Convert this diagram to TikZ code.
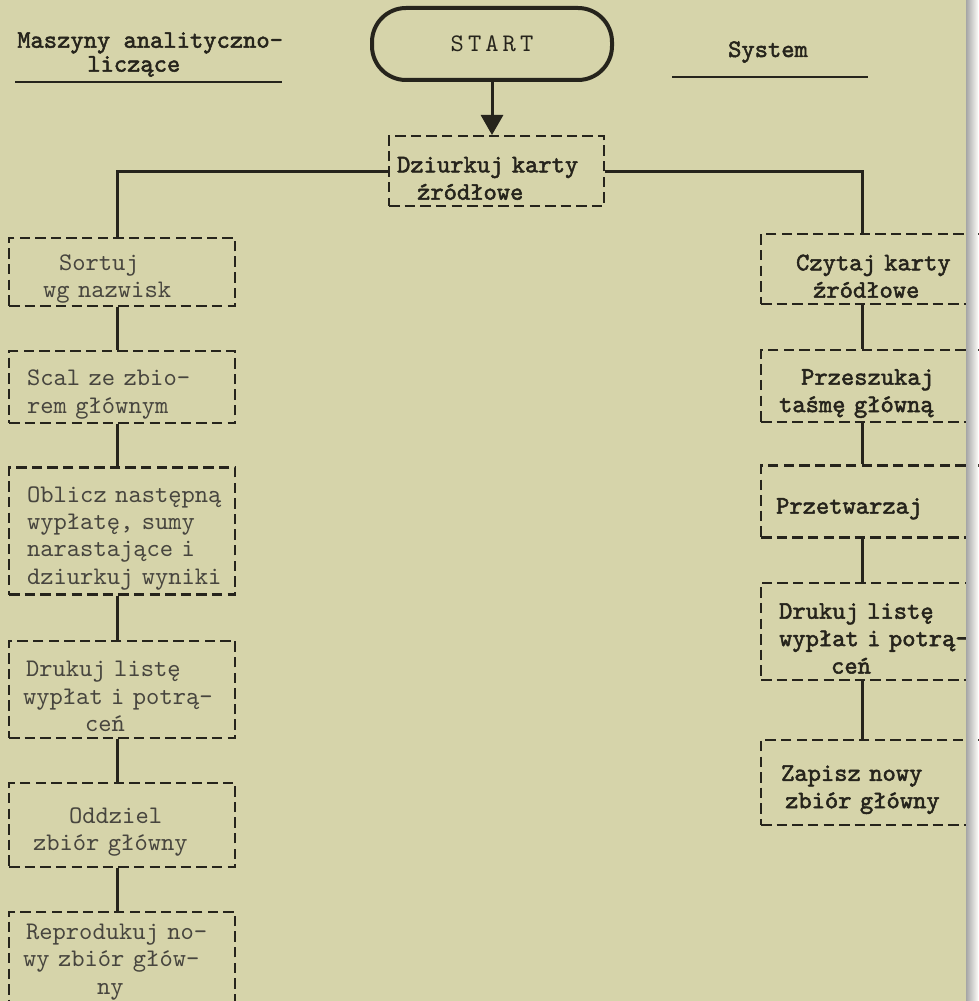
\documentclass[tikz,border=0pt]{standalone}
\usepackage{fontspec}
\setmainfont{lmmono10-regular.otf}[BoldFont=lmmono10-regular.otf,BoldFeatures={FakeBold=2}]
\newfontfamily\startfont{lmmono10-regular.otf}[LetterSpace=16]
\usetikzlibrary{arrows.meta,positioning,calc}
\definecolor{paper}{RGB}{214,212,170}
\definecolor{ink}{RGB}{38,36,28}
\newcommand\twfont{\fontsize{18pt}{19.5pt}\selectfont}
\tikzset{%
  box/.style={draw=ink,dash pattern=on 2.6mm off 1.3mm,line width=0.55mm,
    anchor=north west,align=left,inner ysep=0.5mm,inner xsep=1.5mm,text=ink},
  lowtext/.style={execute at begin node={\rule{0pt}{7.5mm}}},
  plainbox/.style={box,text width=53.5mm,font=\twfont,text=ink!85},
  lbox/.style={plainbox,lowtext},
  rbox/.style={box,lowtext,text width=54.5mm,font=\twfont\bfseries},
  link/.style={draw=ink,line width=0.75mm}%
}

\begin{document}
\begin{tikzpicture}[x=0.25mm,y=-0.25mm]
\useasboundingbox (0,0) rectangle (978,1001);
\fill[paper] (0,0) rectangle (978,1001);

% Headings
\node[anchor=north west,align=left,inner sep=0pt,text=ink,
  font=\fontsize{18pt}{17pt}\selectfont\bfseries] (mhead) at (17,32)
  {Maszyny analityczno-\\\hspace*{17.5mm}liczące};
\node[anchor=base,text=ink,font=\twfont\bfseries] (shead) at (768,57) {System};
\draw[ink,line width=0.6mm] (15,82) -- (282,82);
\draw[ink,line width=0.6mm] (672,77) -- (868,77);

% Start and first step
\node[draw=ink,line width=1mm,rounded corners=8.5mm,minimum width=60mm,
  minimum height=18mm,font=\startfont\twfont,text=ink] (start) at (492,44) {START};
\node[box,lowtext,text width=50.75mm,minimum height=17.5mm,font=\twfont\bfseries] (dz) at (388,135)
  {\hspace*{0.5mm}Dziurkuj karty\\\hspace*{5.5mm}źródłowe};

% Left column (machines)
\node[lbox,minimum height=17mm] (sortuj) at (8,237)
  {\hspace*{11mm}Sortuj\\\hspace*{7mm}wg nazwisk};
\node[lbox,minimum height=18mm,below=10.75mm of sortuj] (scal)
  {\hspace*{3mm}Scal ze zbio-\\\hspace*{3mm}rem głównym};
\node[lbox,minimum height=31.75mm,below=10.5mm of scal] (oblicz)
  {\hspace*{3mm}Oblicz następną\\\hspace*{3mm}wypłatę, sumy\\\hspace*{3mm}narastające i\\\hspace*{3mm}dziurkuj wyniki};
\node[lbox,minimum height=24.25mm,below=11mm of oblicz] (ldruk)
  {\hspace*{2.75mm}Drukuj listę\\\hspace*{2mm}wypłat i potrą-\\\hspace*{17.5mm}ceń};
\node[lbox,minimum height=21mm,below=10.75mm of ldruk] (oddziel)
  {\hspace*{13.5mm}Oddziel\\\hspace*{4.5mm}zbiór główny};
\node[plainbox,minimum height=25mm,below=10.75mm of oddziel] (repro)
  {\hspace*{2.75mm}Reprodukuj no-\\\hspace*{2mm}wy zbiór głów-\\\hspace*{20.5mm}ny};

% Right column (system)
\node[rbox,minimum height=17.5mm] (czytaj) at (760,233)
  {\hspace*{7.25mm}Czytaj karty\\\hspace*{11.5mm}źródłowe};
\node[rbox,minimum height=18mm,below=11mm of czytaj] (szukaj)
  {\hspace*{8.5mm}Przeszukaj\\\hspace*{3mm}taśmę główną};
\node[rbox,minimum height=18mm,below=10.25mm of szukaj] (przetw)
  {\hspace*{2.25mm}Przetwarzaj};
\node[rbox,minimum height=24.25mm,below=10.75mm of przetw] (rdruk)
  {\hspace*{3mm}Drukuj listę\\\hspace*{3mm}wypłat i potrą-\\\hspace*{16mm}ceń};
\node[rbox,minimum height=21.25mm,below=14.5mm of rdruk] (zapisz)
  {\hspace*{3.5mm}Zapisz nowy\\\hspace*{4.5mm}zbiór główny};

% Connections
\coordinate (lcol) at (117,0);
\coordinate (rcol) at (862,0);
\draw[link,-{Triangle[length=5mm,width=5.5mm]}] (start.south) -- (start.south |- dz.north);
\draw[link] (dz.west) -| (sortuj.north -| lcol);
\draw[link] (dz.east) -| (czytaj.north -| rcol);
\draw[link] (sortuj.south -| lcol) -- (scal.north -| lcol);
\draw[link] (scal.south -| lcol) -- (oblicz.north -| lcol);
\draw[link] (oblicz.south -| lcol) -- (ldruk.north -| lcol);
\draw[link] (ldruk.south -| lcol) -- (oddziel.north -| lcol);
\draw[link] (oddziel.south -| lcol) -- (repro.north -| lcol);
\draw[link] (czytaj.south -| rcol) -- (szukaj.north -| rcol);
\draw[link] (szukaj.south -| rcol) -- (przetw.north -| rcol);
\draw[link] (przetw.south -| rcol) -- (rdruk.north -| rcol);
\draw[link] (rdruk.south -| rcol) -- (zapisz.north -| rcol);

% page edge
\shade[left color=black!35,right color=white!90!paper] (966,0) rectangle (978,1001);
\end{tikzpicture}
\end{document}
